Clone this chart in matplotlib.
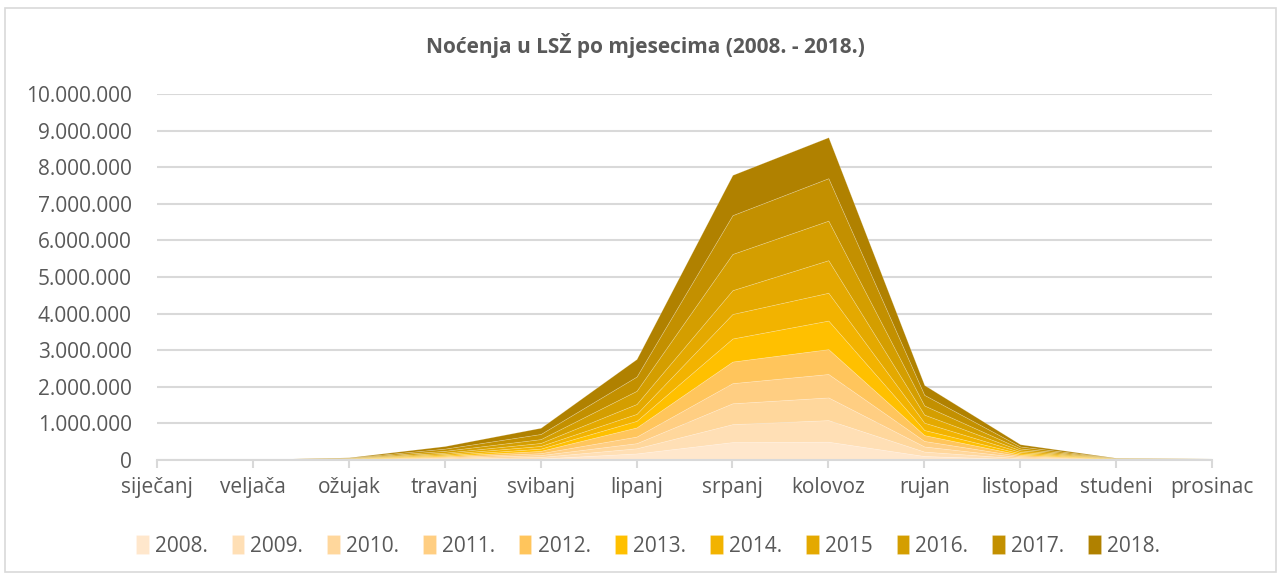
import numpy as np
import matplotlib.pyplot as plt
from matplotlib.patches import Rectangle
from matplotlib.ticker import FuncFormatter

months = ['siječanj', 'veljača', 'ožujak', 'travanj', 'svibanj', 'lipanj',
          'srpanj', 'kolovoz', 'rujan', 'listopad', 'studeni', 'prosinac']
years = ['2008.', '2009.', '2010.', '2011.', '2012.', '2013.',
         '2014.', '2015', '2016.', '2017.', '2018.']
colors = ['#FFE7CC', '#FFDFB5', '#FFD79C', '#FFCE82', '#FFC55C', '#FFC000',
          '#F2B300', '#E4A900', '#D49E00', '#C39000', '#B08100']

# nocenja po godini, po mjesecima (sij..pro)
y2008 = [2500, 1000, 5000, 17000, 42000, 180000, 490000, 500000, 110000, 21000, 4000, 2500]
y2009 = [2500, 1000, 5000, 17000, 42000, 140000, 490000, 590000, 120000, 26000, 4000, 2500]
y2010 = [3000, 1000, 5500, 22000, 52000, 140000, 570000, 620000, 140000, 31000, 4500, 3000]
y2011 = [3000, 1200, 5500, 22000, 52000, 180000, 550000, 640000, 150000, 31000, 5000, 3000]
y2012 = [3500, 1200, 6000, 27000, 62000, 250000, 590000, 680000, 160000, 36000, 5000, 3500]
y2013 = [3500, 1500, 6000, 27000, 62000, 180000, 630000, 780000, 140000, 36000, 5500, 3500]
y2014 = [4000, 1500, 6500, 32000, 72000, 190000, 670000, 760000, 200000, 40000, 5500, 4000]
y2015 = [4000, 2000, 7000, 37000, 82000, 270000, 650000, 890000, 220000, 45000, 6000, 4000]
y2016 = [4500, 2000, 8000, 50000, 105000, 360000, 990000, 1080000, 250000, 50000, 6500, 4500]
y2017 = [5000, 2500, 9000, 60000, 140000, 390000, 1060000, 1160000, 290000, 55000, 7000, 5000]
y2018 = [5500, 3000, 10000, 70000, 170000, 480000, 1100000, 1120000, 270000, 60000, 7500, 5500]
series = [y2008, y2009, y2010, y2011, y2012, y2013, y2014, y2015, y2016, y2017, y2018]

plt.rcParams['font.family'] = ['Open Sans', 'DejaVu Sans']
txt = '#595959'
grid = '#D9D9D9'

fig = plt.figure(figsize=(12.85, 5.77), dpi=100)
ax = fig.add_axes([157/1285, 1-460/577, (1212-157)/1285, (460-94)/577])

x = np.arange(len(months))
ax.stackplot(x, *series, colors=colors, labels=years,
             edgecolor=(1, 1, 1, 0.25), linewidth=0.5, zorder=3)

ax.set_xlim(0, len(months)-1)
ax.set_ylim(0, 10000000)
ax.set_yticks(np.arange(0, 10000001, 1000000))
ax.yaxis.set_major_formatter(FuncFormatter(lambda v, p: '{:,.0f}'.format(v).replace(',', '.')))
ax.set_xticks(x)
ax.set_xticklabels(months)
ax.grid(axis='y', color=grid, linewidth=1.5, zorder=0)
for s in ['top', 'right', 'left']:
    ax.spines[s].set_visible(False)
ax.spines['bottom'].set_color(grid)
ax.spines['bottom'].set_linewidth(1.5)
ax.spines['bottom'].set_zorder(5)
ax.tick_params(axis='y', length=0, pad=18, labelsize=15, labelcolor=txt)
ax.tick_params(axis='x', length=6, width=1.5, color=grid, pad=6, labelsize=15, labelcolor=txt)

fig.text(645/1285, 1-45/577, 'Noćenja u LSŽ po mjesecima (2008. - 2018.)',
         ha='center', va='center', fontsize=15, fontweight='bold', color=txt)

leg = fig.legend(loc='center', bbox_to_anchor=(648/1285, 1-546/577), ncol=11, frameon=False,
                 fontsize=15, handlelength=0.6, handleheight=1.0, handletextpad=0.3,
                 columnspacing=1.15, labelcolor=txt)

fig.add_artist(Rectangle((5/1285, 1-572/577), 1271/1285, 564/577, transform=fig.transFigure,
                         fill=False, edgecolor=grid, linewidth=1.2))

fig.savefig('out.png', dpi=100)
